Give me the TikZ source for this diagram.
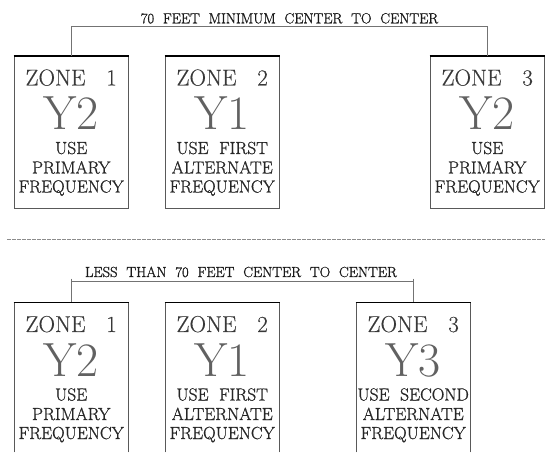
\documentclass[tikz,border=0pt]{standalone}
\usepackage{fontspec}
\newfontfamily\cadzone{lmroman17-regular.otf}[FakeBold=0.3]
\newfontfamily\cadcode{lmroman17-regular.otf}
\newfontfamily\caddesc{lmroman17-regular.otf}[FakeBold=0.9]
\newfontfamily\cadhdr{lmroman17-regular.otf}[FakeBold=1.2]
\newcommand{\zbx}[9]{%
  \node[zbox, minimum height=#4] (#1) at (#2,#3) {};
  \node[zonet] (#1z) at ([yshift=-29.5pt]#1.north) {#5};
  \node[codet] (#1c) at ([yshift=-74pt]#1.north) {#6};
  \node[desct] (#1a) at ([yshift=-98pt]#1.north) {#7};
  \node[desct] (#1b) at ([yshift=-117.5pt]#1.north) {#8};
  \node[desct] (#1d) at ([yshift=-136.5pt]#1.north) {#9};
}
\begin{document}
\begin{tikzpicture}[x=1pt,y=1pt,
  zbox/.style={rectangle, minimum width=114pt, inner sep=0pt, anchor=north west},
  side/.style={draw=black!65, line width=1pt},
  topedge/.style={draw=black, line width=1.8pt},
  link/.style={draw=black!55, line width=0.9pt},
  sep/.style={draw=black!45, line width=1pt, dash pattern=on 3.5pt off 1.5pt},
  lbl/.style={inner sep=0pt, anchor=base, text=black!78},
  zonet/.style={lbl, font=\cadzone\fontsize{23}{23}\selectfont},
  codet/.style={lbl, text=black!62, font=\cadcode\fontsize{48}{48}\selectfont},
  desct/.style={lbl, text=black!85, font=\caddesc\fontsize{17.5}{17.5}\selectfont},
  hdr/.style={inner sep=0pt, anchor=base, text=black!90, font=\cadhdr\fontsize{14.6}{14.6}\selectfont}
]
\useasboundingbox (0,0) rectangle (545,452);

% ---- upper arrangement
\zbx{t1}{14}{396}{152pt}{ZONE~~~1}{Y2}{USE}{PRIMARY}{FREQUENCY}
\zbx{t2}{165}{396}{152pt}{ZONE~~~2}{Y1}{USE~~FIRST}{ALTERNATE}{FREQUENCY}
\zbx{t3}{430}{396}{152pt}{ZONE~~~3}{Y2}{USE}{PRIMARY}{FREQUENCY}
\foreach \b in {t1,t2,t3}{
  \draw[side] (\b.north west) -- (\b.south west) -- (\b.south east) -- (\b.north east);
  \draw[topedge] ([xshift=-0.5pt]\b.north west) -- ([xshift=0.5pt]\b.north east);
}
\node[hdr] (th) at (289.5,428.7) {70~~FEET~~MINIMUM~~CENTER~~TO~~CENTER};
\draw[link] (t1.north) -- ++(0,29.5) -| (t3.north);

% ---- separator
\draw[sep] (7,212) -- (545,212);

% ---- lower arrangement
\zbx{b1}{14}{149.5}{149.5pt}{ZONE~~~1}{Y2}{USE}{PRIMARY}{FREQUENCY}
\zbx{b2}{165}{149.5}{149.5pt}{ZONE~~~2}{Y1}{USE~~FIRST}{ALTERNATE}{FREQUENCY}
\zbx{b3}{356}{149.5}{149.5pt}{ZONE~~~3}{Y3}{USE~~SECOND}{ALTERNATE}{FREQUENCY}
\foreach \b in {b1,b2,b3}{
  \draw[side] (\b.south west) -- (\b.north west);
  \draw[side] (\b.south east) -- (\b.north east);
  \draw[topedge] ([xshift=-0.5pt]\b.north west) -- ([xshift=0.5pt]\b.north east);
}
\node[hdr] (bh) at (241,175) {LESS~~THAN~~70~~FEET~~CENTER~~TO~~CENTER};
\draw[link] ([yshift=23.8pt]b1.north) -- (b1.north);
\draw[link] ([yshift=23.8pt]b3.north) -- (b3.north);
\draw[link] ([yshift=21.2pt]b1.north) -- ([yshift=21.2pt]b3.north);
\end{tikzpicture}
\end{document}
